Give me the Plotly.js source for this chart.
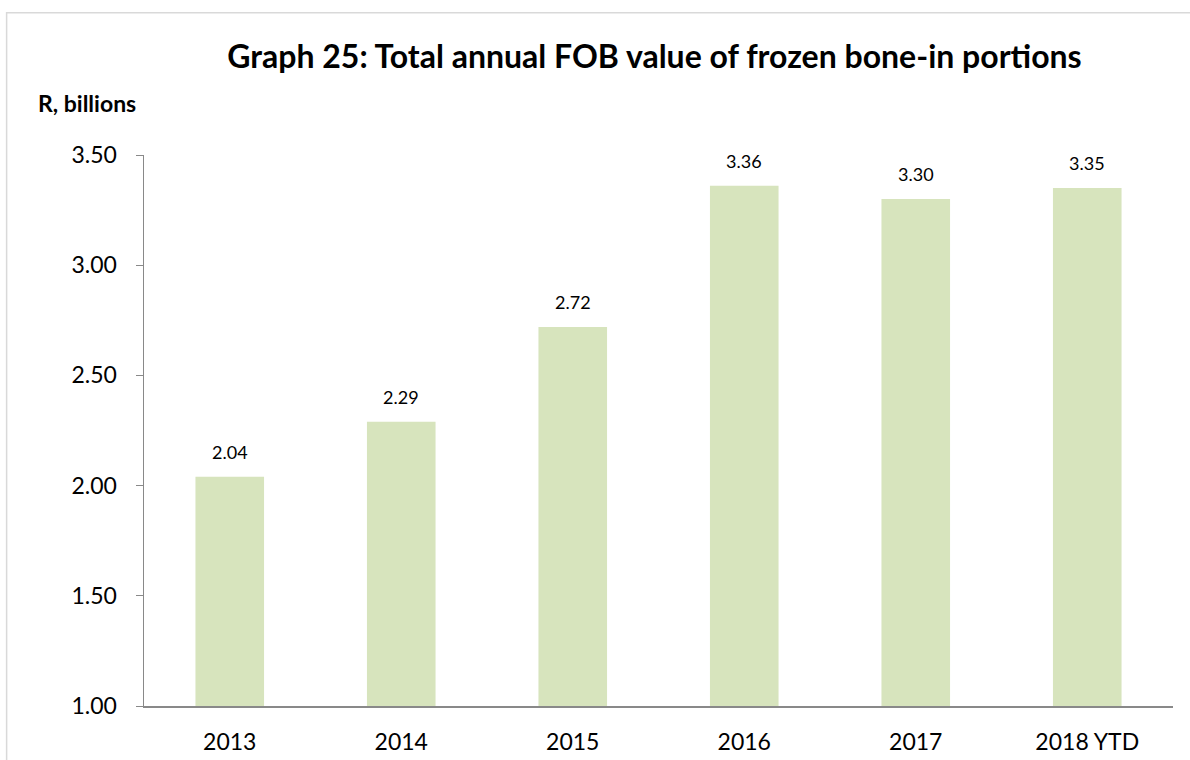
<!DOCTYPE html>
<html><head><meta charset="utf-8">
<script src="https://cdn.plot.ly/plotly-3.0.1.min.js"></script>
<style>html,body{margin:0;padding:0;background:#fff}#chart{width:1190px;height:760px}</style>
</head><body><div id="chart"></div>
<script>
const years = ["2013","2014","2015","2016","2017","2018 YTD"];
const values = [2.04, 2.29, 2.72, 3.36, 3.30, 3.35];
const yTicks = [1.0, 1.5, 2.0, 2.5, 3.0, 3.5];

const FONT = "Lato, 'Open Sans', sans-serif";

const trace = {
  type: "bar", x: years, y: values,
  marker: {color: "#d7e4bd"},
  hoverinfo: "skip"
};

const annotations = years.map((c, i) => ({
  x: i, y: values[i], xref: "x", yref: "y",
  text: values[i].toFixed(2), showarrow: false,
  yanchor: "bottom", yshift: 12,
  font: {family: FONT, size: 18, color: "#000"}
}));
annotations.push({
  xref: "paper", yref: "paper", x: -0.1045, y: 1.065, xanchor: "left", yanchor: "bottom",
  text: "<b>R, billions</b>", showarrow: false,
  font: {family: FONT, size: 23, color: "#000"}
});

const layout = {
  width: 1190, height: 760,
  margin: {l: 144, r: 17, t: 155, b: 54},
  paper_bgcolor: "#fff", plot_bgcolor: "#fff",
  bargap: 0.6,
  showlegend: false,
  title: {text: "<b>Graph 25: Total annual FOB value of frozen bone-in portions</b>",
    x: 0.55, xanchor: "center", y: 0.925, yanchor: "middle",
    font: {family: FONT, size: 32, color: "#000"}},
  xaxis: {type: "category", range: [-0.5, years.length - 0.5], autorange: false,
    showline: true, linecolor: "#898989", linewidth: 2, ticks: "",
    ticklabelstandoff: 14,
    tickfont: {family: FONT, size: 23, color: "#000"}, showgrid: false, zeroline: false},
  yaxis: {range: [1, 3.5], autorange: false, tickvals: yTicks, ticktext: yTicks.map(v => v.toFixed(2)),
    showline: true, linecolor: "#898989", linewidth: 1.5, ticks: "outside", ticklen: 7,
    ticklabelstandoff: 14,
    tickcolor: "#898989", tickfont: {family: FONT, size: 23, color: "#000"},
    showgrid: false, zeroline: false},
  annotations: annotations,
  shapes: [{type: "rect", xref: "paper", yref: "paper", x0: -0.1335, x1: 1.05, y0: -0.2, y1: 1.258,
    line: {color: "#d9d9d9", width: 1.5}, fillcolor: "rgba(0,0,0,0)", layer: "below"}]
};
Plotly.newPlot("chart", [trace], layout, {displayModeBar: false, staticPlot: true});
</script></body></html>
